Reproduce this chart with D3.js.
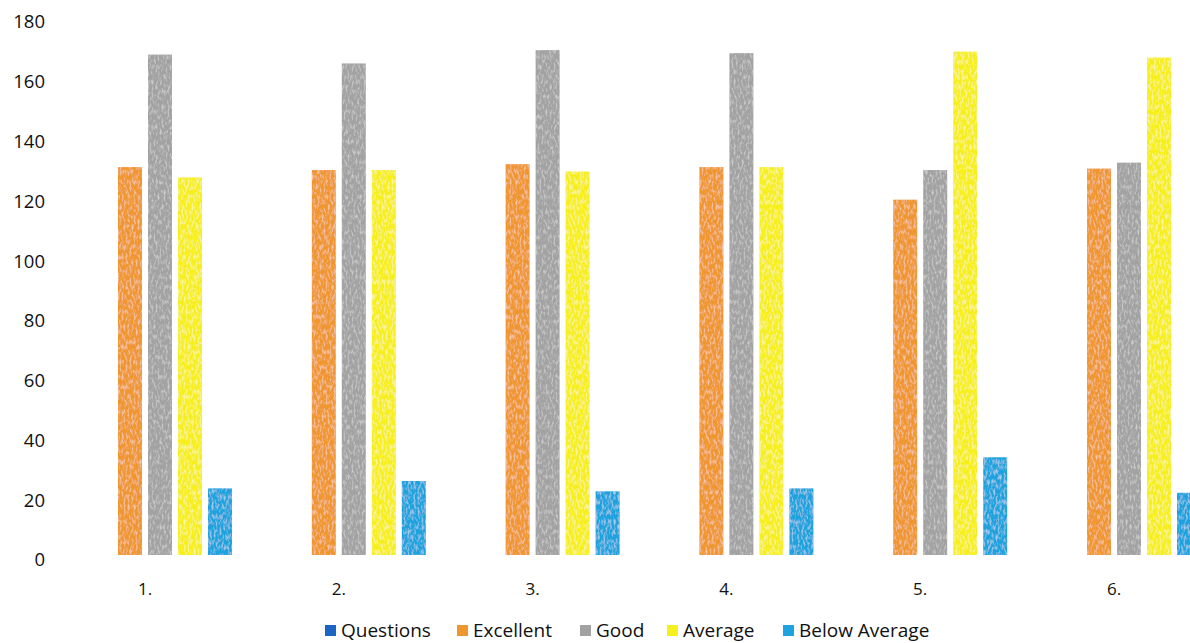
<!DOCTYPE html>
<html>
<head>
<meta charset="utf-8">
<script src="https://cdn.jsdelivr.net/npm/d3@7"></script>
<style>
  html, body { margin: 0; padding: 0; background: #ffffff; overflow: hidden; }
  svg { display: block; }
  text { font-family: "Open Sans", "Liberation Sans", sans-serif; fill: #111111; }
</style>
</head>
<body>
<svg id="chart" width="1190" height="643"></svg>
<script>
const categories = ["1.", "2.", "3.", "4.", "5.", "6."];
const seriesNames = ["Questions", "Excellent", "Good", "Average", "Below Average"];
const questions = [null, null, null, null, null, null];
const excellent = [131, 130, 132, 131, 120, 130.5];
const good = [169, 166, 170.5, 169.5, 130, 132.5];
const average = [127.5, 130, 129.5, 131, 170, 168];
const belowAverage = [22.5, 25, 21.5, 22.5, 33, 21];
const yTicks = [0, 20, 40, 60, 80, 100, 120, 140, 160, 180];
const colors = ["#1b64c4", "#f0962e", "#a2a2a2", "#f7ef1e", "#1fa3de"];

const seriesValues = [questions, excellent, good, average, belowAverage];

const svg = d3.select("#chart");

// pencil-like texture filter
const defs = svg.append("defs");
const f = defs.append("filter").attr("id", "tex").attr("x", 0).attr("y", 0).attr("width", 1).attr("height", 1);
f.append("feTurbulence").attr("type", "fractalNoise").attr("baseFrequency", "0.5 0.2").attr("numOctaves", 2).attr("seed", 3).attr("result", "n");
f.append("feColorMatrix").attr("in", "n").attr("type", "matrix")
  .attr("values", "0 0 0 0 1  0 0 0 0 1  0 0 0 0 1  0 0 0 -1.0 0.55").attr("result", "w");
f.append("feComposite").attr("in", "w").attr("in2", "SourceGraphic").attr("operator", "in").attr("result", "wc");
const fm = f.append("feMerge");
fm.append("feMergeNode").attr("in", "SourceGraphic");
fm.append("feMergeNode").attr("in", "wc");

const y = d3.scaleLinear().domain([0, 180]).range([555, 22]);
const yLabel = d3.scaleLinear().domain([0, 180]).range([560, 22]);

const x0 = d3.scaleBand().domain(categories).range([88, 88 + 6 * 193.8]).paddingInner(0).paddingOuter(0);
const x1 = d3.scaleBand().domain(seriesNames).range([0, 144]).paddingInner(0.2).paddingOuter(0);

// y tick labels
svg.append("g").selectAll("text").data(yTicks).join("text")
  .attr("x", 45)
  .attr("y", d => yLabel(d))
  .attr("dy", "0.35em")
  .attr("text-anchor", "end")
  .attr("font-size", 18.5)
  .text(d => d);

// bars
const rows = [];
seriesNames.forEach((s, si) => {
  categories.forEach((c, ci) => {
    const v = seriesValues[si][ci];
    if (v != null) rows.push({ s, si, c, v });
  });
});

svg.append("g").selectAll("rect").data(rows).join("rect")
  .attr("x", d => x0(d.c) + x1(d.s))
  .attr("y", d => y(d.v))
  .attr("width", x1.bandwidth())
  .attr("height", d => y(0) - y(d.v))
  .attr("fill", d => colors[d.si])
  .attr("filter", "url(#tex)");

// category labels
svg.append("g").selectAll("text").data(categories).join("text")
  .attr("x", c => x0(c) + x1("Good") - 3)
  .attr("y", 589)
  .attr("dy", "0.35em")
  .attr("text-anchor", "middle")
  .attr("font-size", 17)
  .text(c => c);

// legend
const legendX = [325, 457, 580, 667, 783];
const lg = svg.append("g").selectAll("g").data(seriesNames).join("g")
  .attr("transform", (d, i) => `translate(${legendX[i]},629)`);
lg.append("rect").attr("x", 0).attr("y", -4).attr("width", 11).attr("height", 11)
  .attr("fill", (d, i) => colors[i]);
lg.append("text").attr("x", 16).attr("y", 1).attr("dy", "0.35em")
  .attr("font-size", 19).text(d => d);
</script>
</body>
</html>
